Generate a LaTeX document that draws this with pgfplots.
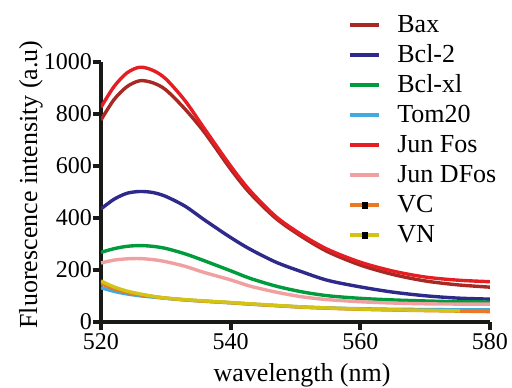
\documentclass[border=0pt]{standalone}
\usepackage{fontspec}
\setmainfont{Liberation Serif}
\usepackage{pgfplots}
\pgfplotsset{compat=1.18}
\definecolor{cBax}{RGB}{168,40,36}
\definecolor{cBcl2}{RGB}{46,42,140}
\definecolor{cBclxl}{RGB}{0,155,60}
\definecolor{cTom}{RGB}{65,170,222}
\definecolor{cJunFos}{RGB}{229,30,36}
\definecolor{cJunDFos}{RGB}{240,160,160}
\definecolor{cVC}{RGB}{235,120,35}
\definecolor{cVN}{RGB}{210,195,20}
\definecolor{axblack}{RGB}{25,25,22}
\begin{document}
\begin{tikzpicture}
\begin{axis}[
  scale only axis, width=194.5pt, height=130pt,
  xmin=520, xmax=580, ymin=0, ymax=1000,
  axis x line=bottom, axis y line=left,
  axis line style={-, line width=2pt, axblack},
  xtick={520,540,560,580}, ytick={0,200,400,600,800,1000},
  tick align=outside, major tick length=4pt,
  tick style={line width=2pt, axblack},
  minor tick num=0,
  /pgf/number format/assume math mode=true,
  /pgf/number format/1000 sep={},
  ticklabel style={font=\fontsize{12}{14}\selectfont},
  yticklabel style={inner sep=0.3pt},
  xticklabel style={inner sep=0pt, yshift=-1.8pt},
  xlabel={wavelength (nm)}, ylabel={Fluorescence intensity (a.u)},
  label style={font=\fontsize{13}{15}\selectfont},
  xlabel style={at={(axis description cs:0.517,-0.204)}, anchor=center},
  ylabel style={at={(axis description cs:-0.18,0.529)}, anchor=center},
  legend cell align=left,
  legend style={at={(rel axis cs:0.636,1.191)}, anchor=north west, draw=none, fill=none,
    inner sep=0pt, outer sep=0pt, row sep=2pt, column sep=8pt,
    font=\fontsize{13}{15}\selectfont,
    nodes={inner sep=0pt, text height=10pt, text depth=3pt}},
  legend image code/.code={\draw[line width=2pt] (0pt,0pt) -- (14.5pt,0pt);},
  every axis plot/.append style={line width=1.7pt, smooth, no markers},
]
\addplot[cBax] coordinates {(520,777) (522,855) (524,905) (526,928) (528,920) (530,893) (533,818) (536,728) (540,588) (543,495) (547,398) (551,328) (555,270) (560,219) (565,183) (570,158) (575,143) (580,134)};
\addlegendentry{Bax}
\addplot[cBcl2] coordinates {(520,435) (522,472) (524,495) (526,502) (528,498) (530,483) (533,445) (536,392) (540,325) (543,280) (547,230) (551,193) (555,160) (560,135) (565,115) (570,101) (575,92) (580,88)};
\addlegendentry{Bcl-2}
\addplot[cBclxl] coordinates {(520,268) (522,282) (524,291) (526,294) (528,291) (530,283) (533,262) (536,235) (540,197) (543,168) (547,138) (551,116) (555,101) (560,91) (565,85) (570,81) (575,78) (580,77)};
\addlegendentry{Bcl-xl}
\addplot[cTom] coordinates {(520,132) (522,118) (524,108) (526,101) (528,96) (530,91) (533,85) (536,80) (540,74) (543,69) (547,63) (551,58) (555,54) (560,51) (565,49) (570,48) (575,47) (580,47)};
\addlegendentry{Tom20}
\addplot[cJunFos] coordinates {(520,826) (522,905) (524,958) (526,980) (528,968) (530,935) (533,850) (536,742) (540,600) (543,505) (547,405) (551,335) (555,279) (560,230) (565,196) (570,173) (575,161) (580,155)};
\addlegendentry{Jun Fos}
\addplot[cJunDFos] coordinates {(520,227) (522,238) (524,243) (526,244) (528,240) (530,232) (533,214) (536,190) (540,162) (543,138) (547,115) (551,97) (555,86) (560,78) (565,73) (570,70) (575,69) (580,69)};
\addlegendentry{Jun DFos}
\addplot[cVC, legend image code/.code={\draw[line width=2pt] (0pt,0pt) -- (14.5pt,0pt); \fill[black] (6.45pt,-1pt) rectangle (8.05pt,1pt);}] coordinates {(520,148) (522,128) (524,114) (526,105) (528,98) (530,92) (533,85) (536,80) (540,74) (543,69) (547,63) (551,57) (555,53) (560,49) (565,46) (570,44) (575,42) (580,40)};
\addlegendentry{VC}
\addplot[cVN, legend image code/.code={\draw[line width=2pt] (0pt,0pt) -- (14.5pt,0pt); \fill[black] (6.45pt,-1pt) rectangle (8.05pt,1pt);}] coordinates {(520,158) (522,135) (524,119) (526,108) (528,99) (530,92) (533,86) (536,81) (540,75) (543,70) (547,64) (551,58) (555,54) (560,50) (565,47) (570,45) (575.4,43)};
\addlegendentry{VN}
\coordinate (bbA) at (rel axis cs:-0.2596,-0.25);
\coordinate (bbB) at (rel axis cs:1.0566,1.2385);
\end{axis}
\pgfresetboundingbox
\path[use as bounding box] (bbA) rectangle (bbB);
\end{tikzpicture}
\end{document}
